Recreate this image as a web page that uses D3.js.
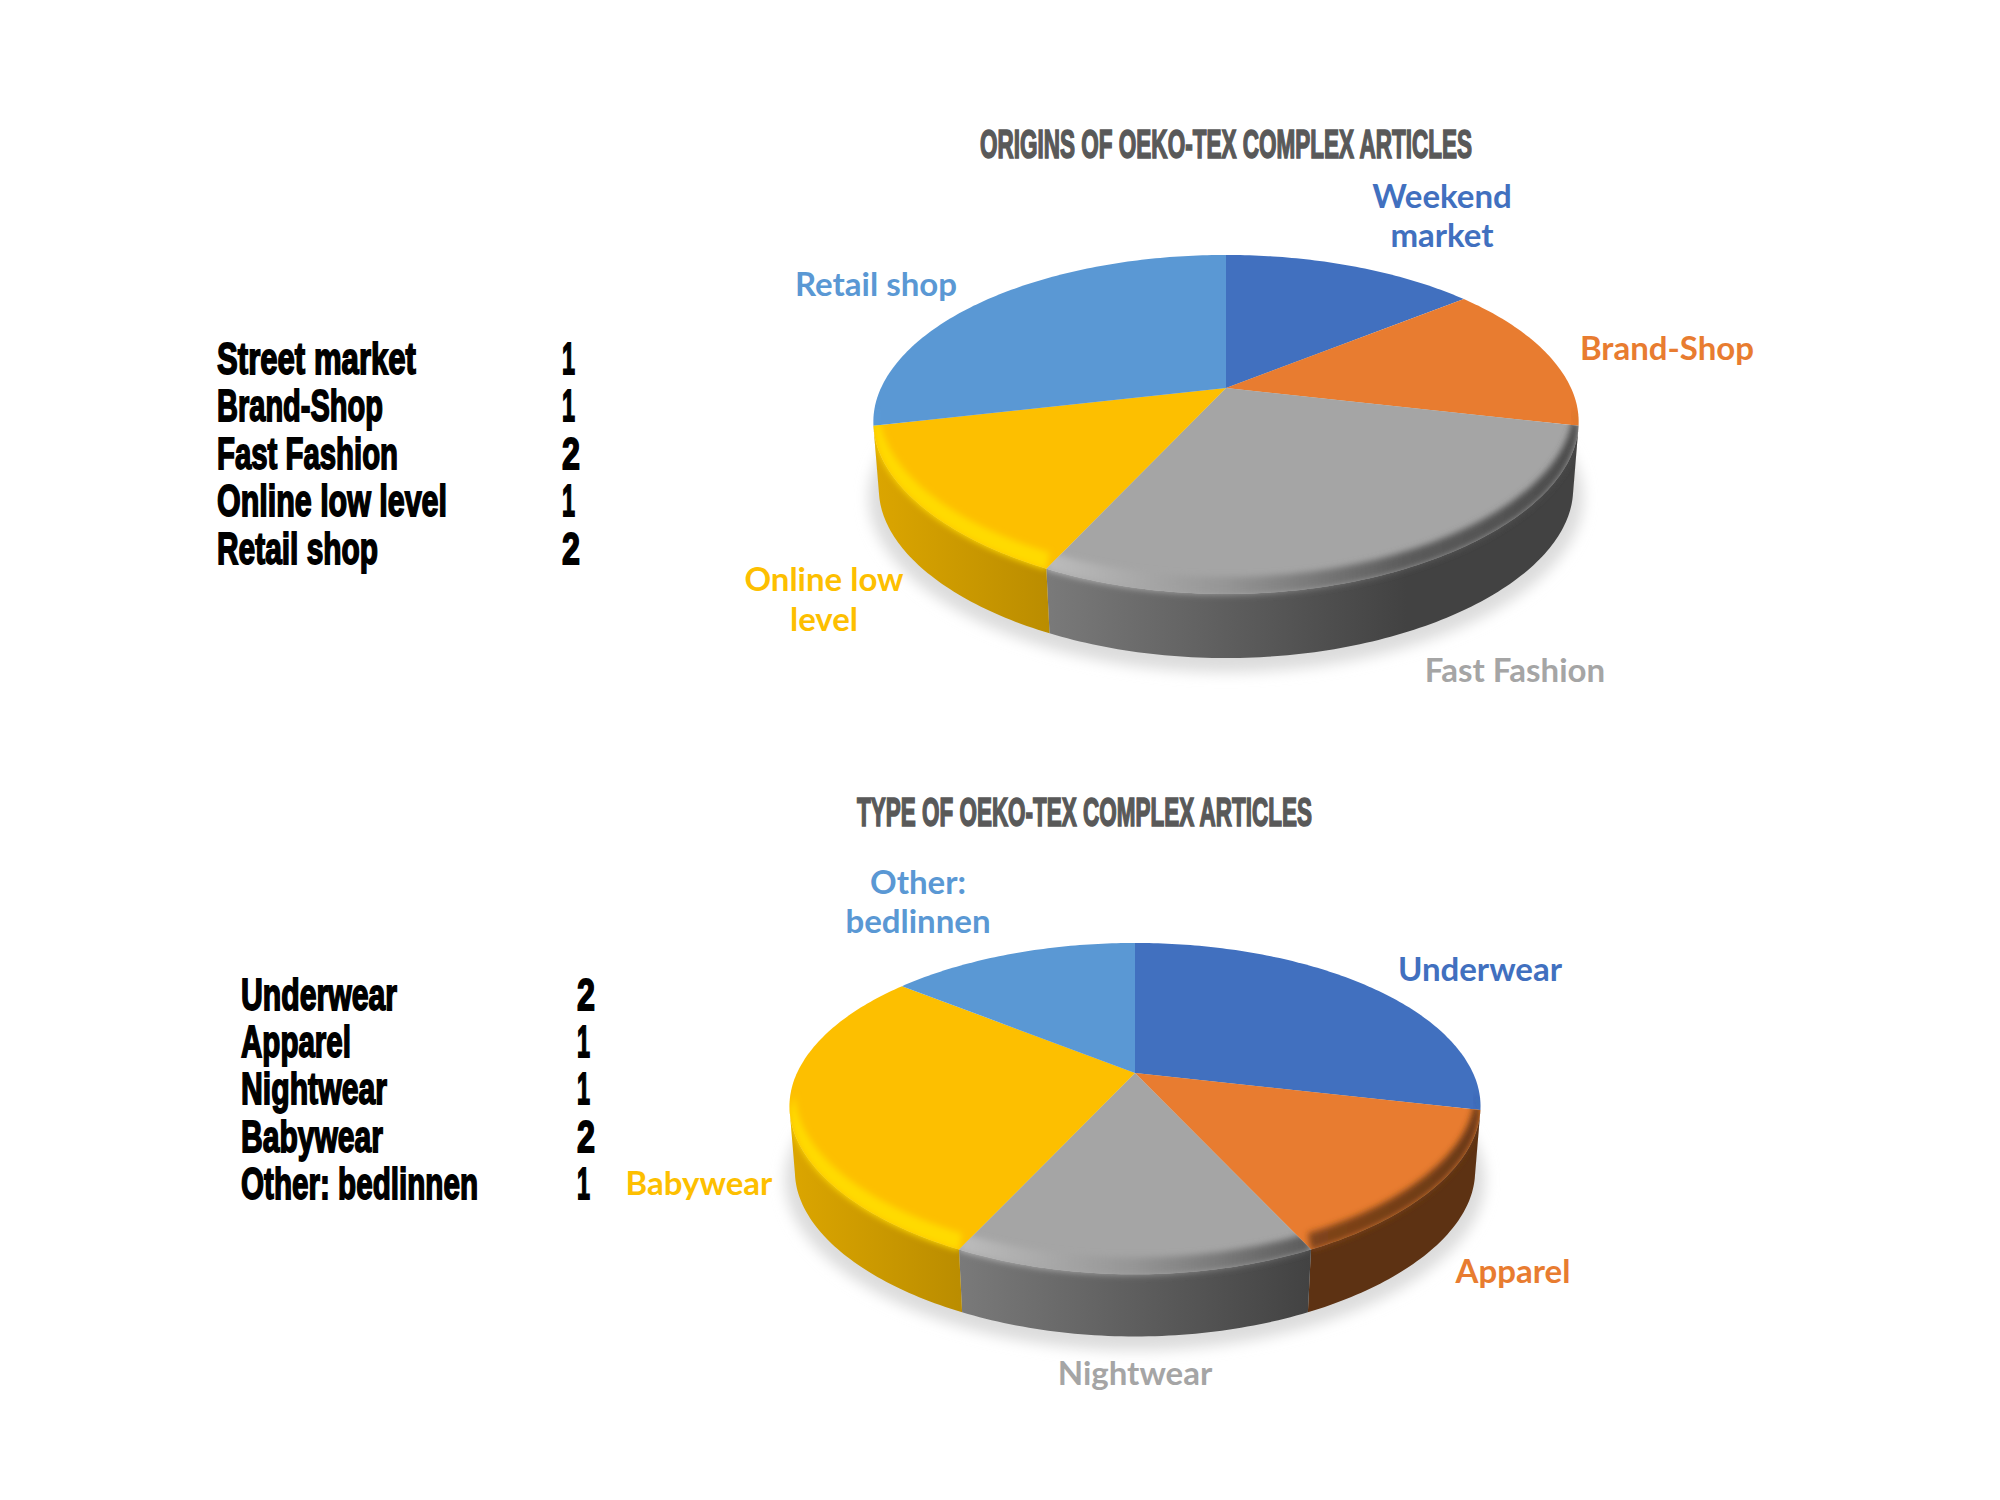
<!DOCTYPE html>
<html>
<head>
<meta charset="utf-8">
<script src="https://cdn.jsdelivr.net/npm/d3@7"></script>
<style>
	html, body { margin: 0; background: #fff; }
	.heavy { font-family: "Liberation Sans Narrow", "Liberation Sans", sans-serif; font-weight: 700; }
	.label { font-family: Lato, "Noto Sans", sans-serif; font-weight: 700; font-size: 33px; text-anchor: middle; }
</style>
</head>
<body>
<svg id="chart" width="2000" height="1500"></svg>
<script>
// data
var originNames = ["Weekend market", "Brand-Shop", "Fast Fashion", "Online low level", "Retail shop"]
var originValues = [1, 1, 2, 1, 2]
var originTableNames = ["Street market", "Brand-Shop", "Fast Fashion", "Online low level", "Retail shop"]
var originTitle = "ORIGINS OF OEKO-TEX COMPLEX ARTICLES"

var typeNames = ["Underwear", "Apparel", "Nightwear", "Babywear", "Other: bedlinnen"]
var typeValues = [2, 1, 1, 2, 1]
var typeTitle = "TYPE OF OEKO-TEX COMPLEX ARTICLES"

var sliceColors = ["#4170bf", "#e87c30", "#a5a5a5", "#fdbf00", "#5a98d4"]

// layout, kept apart from the values
var originLayout = {
	cx: 1226, cy: 388, a: 345, b: 161.7, depth: 68,
	title: { x: 980, y: 158, w: 492 },
	labels: [
		{ x: 1442, y: [208, 247], lines: ["Weekend", "market"] },
		{ x: 1667, y: [360], lines: ["Brand-Shop"] },
		{ x: 1515, y: [682], lines: ["Fast Fashion"] },
		{ x: 824, y: [591, 631], lines: ["Online low", "level"] },
		{ x: 876, y: [296], lines: ["Retail shop"] }
	],
	table: { x: 217, numX: 562, y: [374, 421, 469, 516, 564], w: [199, 166, 181, 230, 161] }
}
var typeLayout = {
	cx: 1135, cy: 1073, a: 338, b: 158, depth: 66,
	title: { x: 857, y: 826, w: 455 },
	labels: [
		{ x: 1480, y: [981], lines: ["Underwear"] },
		{ x: 1513, y: [1283], lines: ["Apparel"] },
		{ x: 1135, y: [1385], lines: ["Nightwear"] },
		{ x: 699, y: [1195], lines: ["Babywear"] },
		{ x: 918, y: [894, 933], lines: ["Other:", "bedlinnen"] }
	],
	table: { x: 241, numX: 577, y: [1010, 1057, 1104, 1152, 1199], w: [156, 110, 146, 142, 237] }
}

var tilt = 0.215
var frontPinch = 0.04
var wallShade = d3.scaleLinear().domain([-272, -138, 138, 272]).range([0.87, 0.74, 0.4, 0.4])
var rimShade = d3.scaleLinear().domain([-272, -138, 0, 138, 272]).range([1.14, 1.14, 0.9, 0.55, 0.45])

var svg = d3.select("#chart")
var defs = svg.append("defs")
defs.append("filter").attr("id", "soft").attr("x", "-20%").attr("y", "-60%").attr("width", "140%").attr("height", "220%")
	.append("feGaussianBlur").attr("stdDeviation", 3)
defs.append("filter").attr("id", "shadow").attr("x", "-10%").attr("y", "-10%").attr("width", "120%").attr("height", "120%")
	.append("feGaussianBlur").attr("stdDeviation", 7)

function shadeColor(color, k) {
	var c = d3.rgb(color)
	return d3.rgb(Math.min(255, c.r * k), Math.min(255, c.g * k), Math.min(255, c.b * k)).formatHex()
}

function makeGradient(id, color, shade, layout) {
	var grad = defs.append("linearGradient").attr("id", id)
		.attr("gradientUnits", "userSpaceOnUse")
		.attr("x1", layout.cx - layout.a * 1.03).attr("x2", layout.cx + layout.a * 1.03)
		.attr("y1", 0).attr("y2", 0)
	shade.domain().forEach(d => {
		grad.append("stop")
			.attr("offset", (d + 272) / 544)
			.attr("stop-color", shadeColor(color, shade(d)))
	})
}

function drawPie(id, layout, values, names, tableNames, title) {
	// circle seen in perspective, so the apex sits above the middle of the ellipse
	function project(theta, drop, scale) {
		var x = Math.sin(theta) * scale
		var y = -Math.cos(theta) * scale
		var w = 1 - tilt * y
		var pinch = 1 - frontPinch * Math.max(0, y) * Math.max(0, y)
		return [layout.cx + layout.a * pinch * x / w, layout.cy + drop + layout.b * y / w]
	}
	function samples(t0, t1, drop, scale) {
		var n = Math.max(2, Math.ceil(Math.abs(t1 - t0) * 60))
		return d3.range(n + 1).map(i => project(t0 + (t1 - t0) * i / n, drop, scale))
	}
	var line = d3.line()
	var arcs = d3.pie().sort(null)(values)
	var color = d3.scaleOrdinal().domain(names).range(sliceColors)
	var frontStart = Math.acos(-tilt)
	var frontEnd = 2 * Math.PI - frontStart
	var depth = layout.depth

	var g = svg.append("g").attr("class", id)

	// soft floor shadow
	g.append("path")
		.attr("d", line(samples(0, 2 * Math.PI, depth + 7, 1.012)) + "Z")
		.attr("fill", "#dcdcdc")
		.attr("filter", "url(#shadow)")

	var parts = arcs.map((d, i) => {
		var t0 = Math.max(d.startAngle, frontStart)
		var t1 = Math.min(d.endAngle, frontEnd)
		return {
			name: names[i],
			color: color(names[i]),
			index: i,
			top: line([[layout.cx, layout.cy]].concat(samples(d.startAngle, d.endAngle, 0, 1))) + "Z",
			wall: t1 > t0 ? line(samples(t0, t1, 0, 1).concat(samples(t1, t0, depth, 0.985))) + "Z" : null,
			rim: t1 > t0 ? line(samples(t0, t1, 1, 1).concat(samples(t1, t0, -13, 0.985))) + "Z" : null
		}
	})

	parts.forEach(p => {
		makeGradient(id + "-wall-" + p.index, p.color, wallShade, layout)
		makeGradient(id + "-rim-" + p.index, p.color, rimShade, layout)
		var clip = defs.append("clipPath").attr("id", id + "-clip-" + p.index)
		clip.append("path").attr("d", p.top)
		if (p.wall) clip.append("path").attr("d", p.wall)
	})

	parts.filter(p => p.wall).forEach(p => {
		g.append("path").attr("d", p.wall).attr("fill", `url(#${id}-wall-${p.index})`)
	})
	parts.forEach(p => {
		g.append("path").attr("d", p.top).attr("fill", p.color)
	})
	parts.filter(p => p.rim).forEach(p => {
		g.append("g").attr("clip-path", `url(#${id}-clip-${p.index})`)
			.append("path").attr("d", p.rim)
			.attr("fill", `url(#${id}-rim-${p.index})`)
			.attr("filter", "url(#soft)")
	})

	// title
	g.append("text").attr("class", "heavy")
		.attr("x", layout.title.x).attr("y", layout.title.y)
		.attr("font-size", 40)
		.attr("textLength", layout.title.w).attr("lengthAdjust", "spacingAndGlyphs")
		.attr("fill", "#595959").attr("stroke", "#595959").attr("stroke-width", 1.7)
		.text(title)

	// slice labels
	layout.labels.forEach((l, i) => {
		l.lines.forEach((t, j) => {
			g.append("text").attr("class", "label")
				.attr("x", l.x).attr("y", l.y[j])
				.attr("fill", color(names[i]))
				.text(t)
		})
	})

	// table on the left
	tableNames.forEach((t, i) => {
		g.append("text").attr("class", "heavy")
			.attr("x", layout.table.x).attr("y", layout.table.y[i])
			.attr("font-size", 45)
			.attr("textLength", layout.table.w[i]).attr("lengthAdjust", "spacingAndGlyphs")
			.attr("stroke", "#000").attr("stroke-width", 1.8)
			.text(t)
		g.append("text").attr("class", "heavy")
			.attr("x", layout.table.numX).attr("y", layout.table.y[i])
			.attr("font-size", 45)
			.attr("textLength", values[i] > 1 ? 18 : 13).attr("lengthAdjust", "spacingAndGlyphs")
			.attr("stroke", "#000").attr("stroke-width", 1.8)
			.text(values[i])
	})
}

drawPie("origin", originLayout, originValues, originNames, originTableNames, originTitle)
drawPie("type", typeLayout, typeValues, typeNames, typeNames, typeTitle)
</script>
</body>
</html>
